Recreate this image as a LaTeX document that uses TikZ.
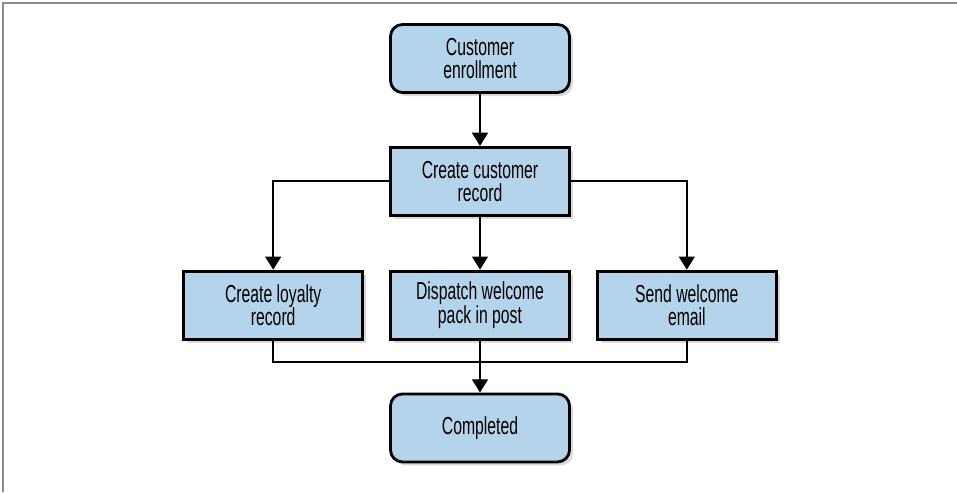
\documentclass[tikz,border=0pt]{standalone}
\usepackage{fontspec}
\setmainfont[FakeStretch=0.64]{Liberation Sans}
\usepackage{tikz}
\usetikzlibrary{arrows.meta, positioning, shadows}
\definecolor{step-blue}{RGB}{179,212,234}
\definecolor{frame-gray}{RGB}{140,140,140}

\begin{document}
\begin{tikzpicture}[
    node distance=1.04cm,
    task/.style={rectangle, draw=black, line width=1.6pt, fill=step-blue, minimum width=3.58cm, minimum height=1.36cm, align=center, font=\fontsize{14}{13.2}\selectfont, drop shadow={shadow xshift=0.07cm, shadow yshift=-0.07cm, opacity=0.3}},
    terminal/.style={task, rounded corners=0.24cm},
    flow/.style={draw=black, line width=1.1pt},
    arrow/.style={flow, -{Triangle[width=9pt, length=7.5pt]}}
]
\useasboundingbox (0,0) rectangle (19.14,-9.84);
\draw[frame-gray, line width=1.2pt] (0.06,-9.84) -- (0.06,-0.06) -- (19.14,-0.06);

% Start
\node[terminal] (enroll) at (9.6,-1.17) {Customer\\enrollment};
\node[task, below=of enroll] (record) {Create customer\\record};
\draw[arrow] (enroll) -- (record);

% Parallel steps
\node[task, below=1.06cm of record] (dispatch) {Dispatch welcome\\pack in post};
\node[task, left=0.5cm of dispatch] (loyalty) {Create loyalty\\record};
\node[task, right=0.5cm of dispatch] (email) {Send welcome\\email};
\draw[arrow] (record.west) -| (loyalty.north);
\draw[arrow] (record) -- (dispatch);
\draw[arrow] (record.east) -| (email.north);

% Finish
\node[terminal, below=1.04cm of dispatch] (done) {Completed};
\coordinate[below=0.42cm of dispatch] (merge);
\draw[flow] (loyalty.south) |- (merge) -| (email.south);
\draw[arrow] (dispatch) -- (done);

\end{tikzpicture}
\end{document}
